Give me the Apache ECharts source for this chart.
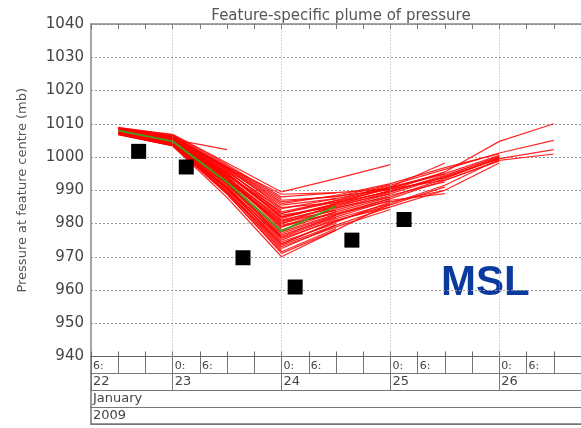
<!DOCTYPE html>
<html>
<head>
<meta charset="utf-8">
<script src="https://cdn.jsdelivr.net/npm/echarts@6/dist/echarts.min.js"></script>
<style>html,body{margin:0;padding:0;background:#fff}#c{width:581px;height:428px}</style>
</head>
<body>
<div id="c"></div>
<script>
// ---- data (hours since 2009-01-22 00:00) ----
const memberHours = [12, 24, 36, 48, 60, 72, 84, 96, 108];
const members = [
  [1008.0, 1005.3, 1002.2],
  [1008.8, 1006.8, 998.2, 989.5, 993.5, 997.7],
  [1008.6, 1006.2, 997.0, 988.8, 989.3, 990.5, 993.0, 998.8],
  [1008.0, 1005.0, 995.0, 982.0, 986.0, 991.0, 998.2],
  [1007.5, 1004.5, 993.0, 980.0, 985.5, 990.0, 995.5, 1004.7, 1010.0],
  [1008.2, 1005.8, 996.0, 983.0, 987.0, 991.5, 996.3, 1001.2, 1005.0],
  [1007.8, 1004.8, 994.0, 979.0, 984.5, 989.0, 994.0, 999.5, 1002.2],
  [1007.0, 1004.0, 992.0, 976.0, 982.5, 987.5, 993.0, 999.0, 1000.9],
  [1008.4, 1005.2, 995.5, 984.5, 987.5, 991.0, 995.0, 1000.5],
  [1007.2, 1003.8, 991.0, 975.0, 981.5, 986.0, 991.5, 999.3],
  [1008.0, 1005.0, 993.5, 981.0, 985.0, 989.5, 994.5, 1000.0],
  [1006.8, 1003.5, 989.5, 972.5, 979.5, 985.0, 990.0, 998.2],
  [1008.6, 1006.0, 996.5, 986.0, 988.5, 992.0, 996.8, 1001.0],
  [1007.5, 1004.2, 992.5, 978.0, 983.5, 988.0, 993.5, 999.8],
  [1007.9, 1004.9, 993.0, 980.5, 984.0, 988.5, 992.5],
  [1007.0, 1003.9, 990.5, 974.0, 980.5, 986.5, 990.0],
  [1008.3, 1005.6, 995.0, 983.0, 986.5, 990.5, 995.5],
  [1007.4, 1004.3, 991.5, 976.5, 982.0, 987.0, 989.0],
  [1008.1, 1005.3, 994.5, 982.0, 985.5, 989.0],
  [1007.3, 1004.1, 991.0, 975.5, 981.0, 985.0],
  [1006.9, 1003.6, 990.0, 973.0, 979.0, 984.2],
  [1008.7, 1006.3, 997.0, 987.0, 988.0, 991.7],
  [1007.6, 1004.6, 992.8, 979.5, 983.0, 987.5],
  [1007.1, 1003.9, 989.0, 971.0, 978.0, 986.0],
  [1008.2, 1005.4, 994.8, 982.5, 985.0],
  [1007.7, 1004.7, 993.0, 980.0, 984.0],
  [1007.0, 1003.7, 990.3, 974.5, 980.0],
  [1006.7, 1003.3, 987.8, 970.0, 978.0],
  [1008.5, 1005.9, 996.2, 985.5, 987.5],
  [1007.4, 1004.4, 991.8, 977.0, 982.5],
  [1008.9, 1006.6, 997.7, 988.0, 989.2],
  [1007.2, 1004.0, 990.8, 973.5, 979.5],
  [1007.9, 1005.0, 993.8, 981.5, 986.0],
  [1006.9, 1003.4, 988.8, 971.5, 978.5],
  [1008.0, 1005.1, 994.2, 979.0, 983.5],
  [1008.3, 1005.7, 995.8, 984.0],
  [1007.5, 1004.2, 992.0, 976.0],
  [1007.0, 1003.6, 989.5, 972.0],
  [1008.6, 1006.1, 997.2, 987.5],
  [1007.8, 1004.8, 993.5, 978.5],
  [1008.1, 1005.5, 996.8, 986.5, 988.2, 990.2],
  [1007.6, 1004.9, 994.6, 983.5, 986.8, 990.8, 994.8],
  [1007.3, 1004.4, 992.2, 977.5, 982.8, 986.8],
  [1008.4, 1005.8, 995.3, 981.8, 985.8, 989.8, 993.8, 999.6],
  [1007.1, 1003.8, 990.6, 975.8, 981.8],
  [1008.2, 1005.2, 994.0, 980.8, 984.8, 988.0],
  [1006.8, 1003.5, 989.2, 973.8, 980.8, 985.6, 991.0],
  [1008.5, 1006.4, 996.6, 984.8, 986.3, 989.6, 994.2, 1000.3]
];
const meanTrack = [1008.0, 1004.7, 992.4, 977.7, 985.2];
const obsHours = [16.5, 27, 39.5, 51, 63.5, 75];
const obsPressure = [1001.7, 997.0, 969.7, 960.9, 975.0, 981.2];
const hourTicks = [6, 12, 18, 24, 30, 36, 42, 48, 54, 60, 66, 72, 78, 84, 90, 96, 102, 108];
const dayTicks = [6, 24, 48, 72, 96];
const dayLabels = ['22', '23', '24', '25', '26'];
const hourLabels = {0: '0:', 6: '6:'};
const monthLabel = 'January';
const yearLabel = '2009';
const titleText = 'Feature-specific plume of pressure';
const yName = 'Pressure at feature centre (mb)';
const fieldLabel = 'MSL';

// ---- chart ----
const FONT = 'DejaVu Sans';
const xMin = 6, xMax = 114;
const LINE = '#777';
const chart = echarts.init(document.getElementById('c'), null, {renderer: 'canvas'});

function pair(hours, vals) {
  const out = [];
  vals.forEach((v, i) => { if (v !== null && v !== undefined) out.push([hours[i], v]); });
  return out;
}

const rows = [
  {top: 356.5, height: 17},
  {top: 373.5, height: 16.5},
  {top: 390, height: 17},
  {top: 407, height: 17}
];
const grids = [{left: 91, right: 0, top: 24, height: 332.5, show: false}].concat(
  rows.map(r => ({left: 91, right: 0, top: r.top, height: r.height, show: false})));

const rowAxisBase = (gi, labelCfg, splitShow, tickVals) => ({
  type: 'value', gridIndex: gi, min: xMin, max: xMax, position: 'top',
  axisLine: {show: true, lineStyle: {color: LINE, width: 1}},
  axisTick: Object.assign({show: false}, tickVals ? {customValues: tickVals} : {}),
  splitLine: {show: splitShow, lineStyle: {color: LINE, width: 1, type: 'solid'}},
  axisLabel: Object.assign({inside: true, align: 'left', verticalAlign: 'top',
    color: '#444', fontFamily: FONT, padding: [0, 0, 0, 2]}, labelCfg)
});

const xAxes = [
  { // main bottom axis
    type: 'value', gridIndex: 0, min: xMin, max: xMax, position: 'bottom',
    axisLine: {show: true, lineStyle: {color: '#666', width: 1}},
    axisTick: {show: true, inside: true, length: 5, customValues: hourTicks, lineStyle: {color: '#666'}},
    axisLabel: {show: false}, splitLine: {show: false}
  },
  { // main top axis
    type: 'value', gridIndex: 0, min: xMin, max: xMax, position: 'top',
    axisLine: {show: true, lineStyle: {color: '#888', width: 1.5}},
    axisTick: {show: true, inside: true, length: 5, customValues: hourTicks, lineStyle: {color: '#777'}},
    axisLabel: {show: false}, splitLine: {show: false}
  },
  rowAxisBase(1, {fontSize: 11, margin: 4, customValues: hourTicks,
    formatter: v => (hourLabels[v % 24] !== undefined ? hourLabels[v % 24] : '')}, true, hourTicks),
  rowAxisBase(2, {fontSize: 13, margin: 2,
    customValues: dayTicks,
    formatter: v => dayLabels[dayTicks.indexOf(v)] || ''}, true, dayTicks),
  rowAxisBase(3, {fontSize: 13, margin: 2, customValues: [xMin], formatter: () => monthLabel}, false),
  rowAxisBase(4, {fontSize: 13, margin: 2, customValues: [xMin], formatter: () => yearLabel}, false),
  { // closing line under the last row
    type: 'value', gridIndex: 4, min: xMin, max: xMax, position: 'bottom',
    axisLine: {show: true, lineStyle: {color: LINE, width: 1.5}},
    axisTick: {show: false}, axisLabel: {show: false}, splitLine: {show: false}
  }
];

const yAxes = [{
  type: 'value', gridIndex: 0, min: 940, max: 1040, interval: 10,
  name: yName, nameLocation: 'middle', nameGap: 62,
  nameTextStyle: {fontFamily: FONT, fontSize: 13, color: '#555'},
  axisLine: {show: true, lineStyle: {color: '#888', width: 1.5}},
  axisTick: {show: false},
  axisLabel: {fontFamily: FONT, fontSize: 15, color: '#444', margin: 7, formatter: v => String(v)},
  splitLine: {show: true, lineStyle: {color: '#999', width: 1, type: [2, 2]}}
}].concat([1, 2, 3, 4].map(gi => ({
  type: 'value', gridIndex: gi, min: 0, max: 1,
  axisLine: {show: true, lineStyle: {color: LINE, width: 1.5}},
  axisTick: {show: false}, axisLabel: {show: false}, splitLine: {show: false}
})));

const series = [];
series.push({
  type: 'line', xAxisIndex: 0, yAxisIndex: 0, data: [], silent: true, z: 1,
  markLine: {silent: true, symbol: ['none', 'none'], label: {show: false}, animation: false,
    lineStyle: {color: '#aaa', width: 1, type: [1, 2]},
    data: dayTicks.slice(1).map(d => ({xAxis: d}))}
});
members.forEach(m => series.push({
  type: 'line', xAxisIndex: 0, yAxisIndex: 0, data: pair(memberHours, m),
  showSymbol: false, silent: true, z: 2,
  lineStyle: {color: '#ff0000', width: 1.2, opacity: 0.85}
}));
series.push({
  type: 'line', xAxisIndex: 0, yAxisIndex: 0, data: pair(memberHours, meanTrack),
  showSymbol: false, silent: true, z: 3,
  lineStyle: {color: '#4a9a1a', width: 2}
});
series.push({
  type: 'scatter', xAxisIndex: 0, yAxisIndex: 0, data: pair(obsHours, obsPressure),
  symbol: 'rect', symbolSize: 15, silent: true, z: 4,
  itemStyle: {color: '#000', opacity: 1}
});

chart.setOption({
  animation: false,
  backgroundColor: '#fff',
  textStyle: {fontFamily: FONT},
  title: {text: titleText, left: 336, top: 4, textAlign: 'center',
    textStyle: {fontFamily: FONT, fontSize: 15, fontWeight: 'normal', color: '#555'}},
  grid: grids,
  xAxis: xAxes,
  yAxis: yAxes,
  series: series,
  graphic: [{type: 'text', left: 441, top: 262, silent: true,
    style: {text: fieldLabel, font: 'bold 42px "Liberation Sans", Arial, sans-serif', fill: '#0b3a9e'}}]
});
</script>
</body>
</html>
